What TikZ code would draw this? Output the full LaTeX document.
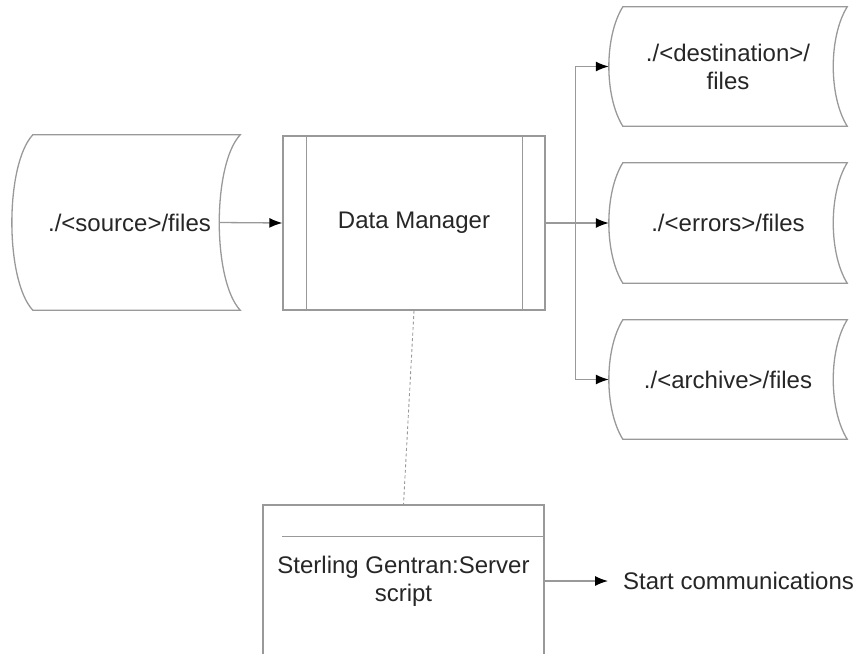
\documentclass[tikz,border=0pt]{standalone}
\usepackage{fontspec}
\setmainfont{Liberation Sans}
\usetikzlibrary{arrows.meta,positioning,calc}

\begin{document}
\begin{tikzpicture}[
  x=1pt,y=-1pt,
  font=\fontsize{24}{28}\selectfont,
  text=black!85,
  >={Latex[length=13pt,width=10pt,black]},
  edge/.style={draw=black!40,line width=1.3pt},
  flow/.style={edge,->},
  tape/.style={minimum width=#1,inner sep=0pt,align=center},
  proc/.style={edge,minimum width=262,minimum height=174,inner sep=0pt},
  script/.style={edge,minimum width=281,minimum height=152,inner sep=0pt,align=center},
  link/.style={draw=black!40,line width=0.9pt,dash pattern=on 3pt off 2.5pt}
]
\useasboundingbox (0,0) rectangle (858,653);

% file stores (text sits a little left of the outline)
\node[tape=207,minimum height=175] (src) at (129.5,222.5) {./<source>/files};
\node[tape=224,minimum height=119] (dst) at (728,66.5) {./<destination>/\\files};
\node[tape=224,minimum height=120] (err) at (728,223) {./<errors>/files};
\node[tape=224,minimum height=119] (arch) at (728,379.5) {./<archive>/files};

\foreach \n/\b in {src/21,dst/14,err/14,arch/14}
  \draw[edge] ($(\n.north west)+(7,0)$) -- ($(\n.north east)+(7,0)$)
    .. controls +(-1.33*\b,30) and +(-1.33*\b,-30) .. ($(\n.south east)+(7,0)$)
    -- ($(\n.south west)+(7,0)$)
    .. controls +(-1.33*\b,-30) and +(-1.33*\b,30) .. ($(\n.north west)+(7,0)$) -- cycle;

% data manager
\node[proc] (dm) at (414,223) {Data Manager};
\draw[edge] ($(dm.north west)+(24,0)$) -- ($(dm.south west)+(24,0)$);
\draw[edge] ($(dm.north east)+(-23,0)$) -- ($(dm.south east)+(-23,0)$);

% script box, runs off the bottom
\node[script] (sg) at (403.5,581) {Sterling Gentran:Server\\script};
\draw[edge] ($(sg.north west)+(20,32)$) -- ($(sg.north east)+(0,32)$);
\node[anchor=west,inner sep=0pt] (start) at (623,581) {Start communications};

% connectors
\coordinate (bus) at ($(dm.east)+(30,0)$);
\draw[flow] ($(src.east)+(-14,0)$) -- (dm.west);
\draw[flow] (dm.east) -- ($(err.west)+(-7,0)$);
\draw[flow] (bus) |- ($(dst.west)+(-7,0)$);
\draw[flow] (bus) |- ($(arch.west)+(-7,0)$);
\draw[link] (dm.south) -- (sg.north);
\draw[flow] (sg.east) -- ($(start.west)+(-15,0)$);
\end{tikzpicture}
\end{document}
